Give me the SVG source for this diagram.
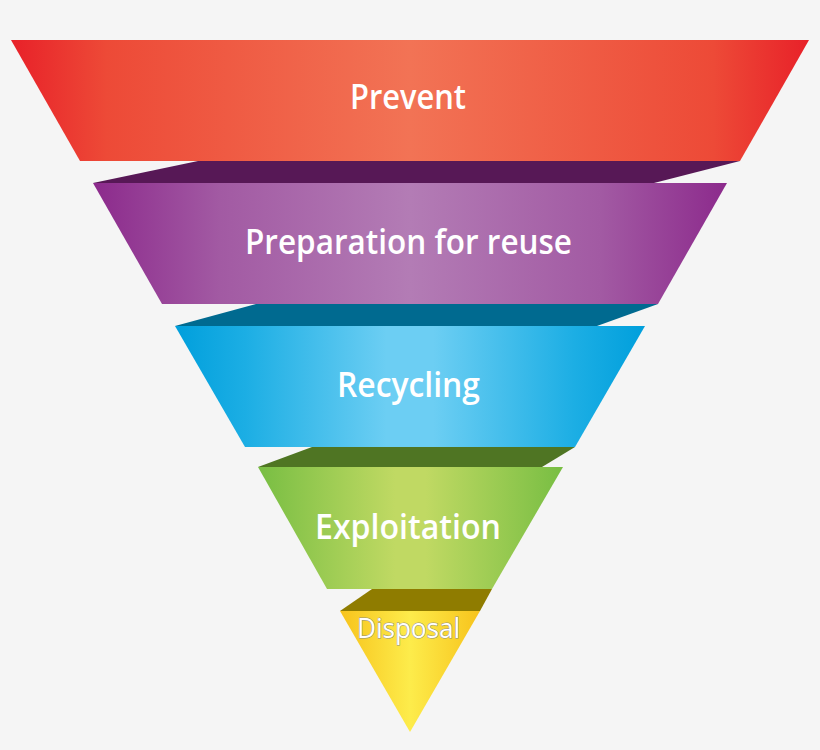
<svg xmlns="http://www.w3.org/2000/svg" width="820" height="750" viewBox="0 0 820 750">
  <defs>
    <linearGradient id="gRed" x1="0" y1="0" x2="1" y2="0">
      <stop offset="0" stop-color="#e82129"/>
      <stop offset="0.12" stop-color="#ed4a37"/>
      <stop offset="0.5" stop-color="#f27355"/>
      <stop offset="0.88" stop-color="#ed4a37"/>
      <stop offset="1" stop-color="#e82129"/>
    </linearGradient>
    <linearGradient id="gPurple" x1="0" y1="0" x2="1" y2="0">
      <stop offset="0" stop-color="#8c2a8c"/>
      <stop offset="0.2" stop-color="#a25aa3"/>
      <stop offset="0.5" stop-color="#b37cb5"/>
      <stop offset="0.8" stop-color="#a25aa3"/>
      <stop offset="1" stop-color="#8c2a8c"/>
    </linearGradient>
    <linearGradient id="gBlue" x1="0" y1="0" x2="1" y2="0">
      <stop offset="0" stop-color="#009fdc"/>
      <stop offset="0.15" stop-color="#1caee4"/>
      <stop offset="0.45" stop-color="#6ccef3"/>
      <stop offset="0.55" stop-color="#6ccef3"/>
      <stop offset="0.85" stop-color="#1caee4"/>
      <stop offset="1" stop-color="#009fdc"/>
    </linearGradient>
    <linearGradient id="gGreen" x1="0" y1="0" x2="1" y2="0">
      <stop offset="0" stop-color="#78be43"/>
      <stop offset="0.45" stop-color="#c0d963"/>
      <stop offset="0.55" stop-color="#c0d963"/>
      <stop offset="1" stop-color="#78be43"/>
    </linearGradient>
    <linearGradient id="gYellow" x1="0" y1="0" x2="1" y2="0">
      <stop offset="0" stop-color="#f7c31c"/>
      <stop offset="0.5" stop-color="#fdec4b"/>
      <stop offset="1" stop-color="#f7c31c"/>
    </linearGradient>
  </defs>
  <style>
    .lbl { font-family: "Open Sans", "DejaVu Sans", sans-serif; font-weight: 600; fill: #ffffff; text-anchor: middle; }
    .big { font-size: 35px; }
    .small { font-size: 27px; font-weight: 400; stroke: #8f8f80; stroke-width: 1px; paint-order: stroke; }
  </style>
  <rect x="0" y="0" width="820" height="750" fill="#f5f5f5"/>

  <g id="connectors">
    <polygon points="198,161 740,161 654,183 93,183" fill="#571856"/>
    <polygon points="256,304 658,304 597,326 175,326" fill="#006a90"/>
    <polygon points="312,447 575,447 542,467 258,467" fill="#4f7523"/>
    <polygon points="372,589 492,589 480,611 340,611" fill="#8f7c00"/>
  </g>

  <g id="prevent">
    <polygon points="11,40 809,40 740,161 80,161" fill="url(#gRed)"/>
    <text class="lbl big" x="408" y="109" textLength="116" lengthAdjust="spacingAndGlyphs">Prevent</text>
  </g>
  <g id="preparation">
    <polygon points="93,183 727,183 658,304 162,304" fill="url(#gPurple)"/>
    <text class="lbl big" x="408.5" y="254" textLength="327" lengthAdjust="spacingAndGlyphs">Preparation for reuse</text>
  </g>
  <g id="recycling">
    <polygon points="175,326 645,326 575,447 245,447" fill="url(#gBlue)"/>
    <text class="lbl big" x="408.5" y="397" textLength="143" lengthAdjust="spacingAndGlyphs">Recycling</text>
  </g>
  <g id="exploitation">
    <polygon points="258,467 563,467 492,589 327,589" fill="url(#gGreen)"/>
    <text class="lbl big" x="408" y="539" textLength="186" lengthAdjust="spacingAndGlyphs">Exploitation</text>
  </g>
  <g id="disposal">
    <polygon points="340,611 480,611 410,732" fill="url(#gYellow)"/>
    <text class="lbl small" x="408.5" y="638" textLength="103" lengthAdjust="spacingAndGlyphs">Disposal</text>
  </g>
</svg>
